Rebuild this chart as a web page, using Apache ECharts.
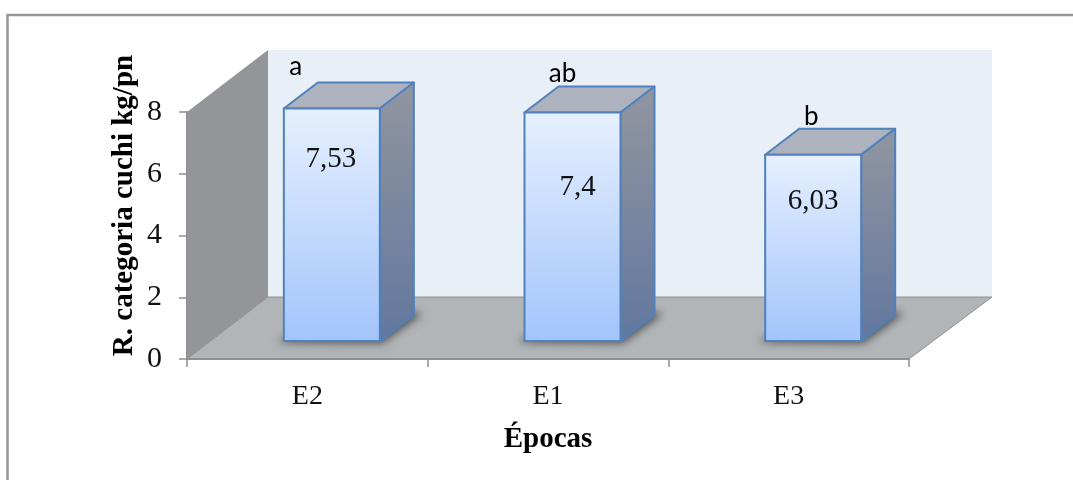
<!DOCTYPE html>
<html>
<head>
<meta charset="utf-8">
<style>html,body{margin:0;padding:0;background:#fff}#chart{width:1073px;height:480px}</style>
<script src="https://cdn.jsdelivr.net/npm/echarts@6/dist/echarts.min.js"></script>
</head>
<body>
<div id="chart"></div>
<script>
// Yield of the "cuchi" category by season
const categories = ['E2', 'E1', 'E3'];
const values = [7.53, 7.4, 6.03];
const valueLabels = ['7,53', '7,4', '6,03'];
const groupLetters = ['a', 'ab', 'b'];

// Pseudo-3D box settings, in pixels
const WALL_DX = 81, WALL_DX_RIGHT = 83, WALL_DY = -62;   // depth of the whole chart box
const SLOT_DX = 24.5, SLOT_DY = -18;    // where the front of each bar sits
const BAR_DX = 34, BAR_DY = -26;        // depth of each bar
const BAR_WIDTH = 96;
const VALUE_POS = [[-1, 51], [5, 75], [0, 47]];         // value text from the bar top centre
const LETTER_POS = [[-36, -42], [-10, -39], [-2, -38]]; // letter text from the bar top centre
const OFFSCREEN = 3000;                 // the floor shadow's source shape sits off the canvas

const SERIF = '"Liberation Serif","Times New Roman",serif';

function wallItem(params, api) {
  const g = params.coordSys;
  const l = g.x, r = g.x + g.width, t = g.y, b = g.y + g.height;
  return {
    type: 'group',
    silent: true,
    children: [
      { type: 'polygon', shape: { points: [[l + WALL_DX, t + WALL_DY], [r + WALL_DX_RIGHT, t + WALL_DY], [r + WALL_DX_RIGHT, b + WALL_DY], [l + WALL_DX, b + WALL_DY]] },
        style: { fill: '#e8eff6' } },
      { type: 'polygon', shape: { points: [[l, t], [l + WALL_DX, t + WALL_DY], [l + WALL_DX, b + WALL_DY], [l, b]] },
        style: { fill: '#939598' } },
      { type: 'polygon', shape: { points: [[l, b], [l + WALL_DX, b + WALL_DY], [r + WALL_DX_RIGHT, b + WALL_DY], [r, b]] },
        style: { fill: '#b1b5b7', stroke: '#8f9294', lineWidth: 1 } }
    ]
  };
}

function barItem(params, api) {
  const i = api.value(0);
  const top = api.coord([i, api.value(1)]);
  const base = api.coord([i, 0]);
  const cx = top[0] + SLOT_DX;
  const x0 = cx - BAR_WIDTH / 2, x1 = cx + BAR_WIDTH / 2;
  const yT = top[1] + SLOT_DY, yB = base[1] + SLOT_DY;
  const line = { stroke: '#4f81bd', lineWidth: 2, lineJoin: 'round' };
  const vGrad = (a, b) => ({ type: 'linear', x: 0, y: 0, x2: 0, y2: 1, colorStops: [{ offset: 0, color: a }, { offset: 1, color: b }] });
  const shadowShape = [[x0 - 6, yB + 1], [x1 + 2, yB + 2], [x1 + BAR_DX + 8, yB + BAR_DY - 1], [x1 + BAR_DX, yB + BAR_DY - 3], [x0, yB - 3]]
    .map(p => [p[0] - OFFSCREEN, p[1]]);
  return {
    type: 'group',
    children: [
      // soft shadow on the floor: only the blurred shadow lands on the canvas
      { type: 'polygon', shape: { points: shadowShape },
        style: { fill: '#000', shadowBlur: 8, shadowOffsetX: OFFSCREEN, shadowColor: 'rgba(50,50,50,0.8)' } },
      // top face
      { type: 'polygon', shape: { points: [[x0, yT], [x0 + BAR_DX, yT + BAR_DY], [x1 + BAR_DX, yT + BAR_DY], [x1, yT]] },
        style: Object.assign({ fill: '#adb2be' }, line) },
      // right face
      { type: 'polygon', shape: { points: [[x1, yT], [x1 + BAR_DX, yT + BAR_DY], [x1 + BAR_DX, yB + BAR_DY], [x1, yB]] },
        style: Object.assign({ fill: vGrad('#9196a0', '#62779f') }, line) },
      // front face
      { type: 'rect', shape: { x: x0, y: yT, width: BAR_WIDTH, height: yB - yT },
        style: Object.assign({ fill: vGrad('#e6f0ff', '#a3c4fb') }, line) },
      { type: 'text', x: cx + VALUE_POS[i][0], y: yT + VALUE_POS[i][1],
        style: { text: valueLabels[i], fill: '#111', font: '29px ' + SERIF, align: 'center', verticalAlign: 'middle' } },
      { type: 'text', x: cx + LETTER_POS[i][0], y: yT + LETTER_POS[i][1],
        style: { text: groupLetters[i], fill: '#000', font: '26px Lato,sans-serif', align: 'center', verticalAlign: 'middle' } }
    ]
  };
}

const chart = echarts.init(document.getElementById('chart'));
chart.setOption({
  animation: false,
  backgroundColor: '#fff',
  graphic: [{
    type: 'rect', z: 0, silent: true,
    shape: { x: 7.5, y: 15, width: 1080, height: 480 },
    style: { fill: 'none', stroke: '#979797', lineWidth: 2.5 }
  }],
  grid: { left: 187, right: 164, top: 112, bottom: 121 },
  xAxis: {
    type: 'category',
    data: categories,
    name: 'Épocas',
    nameLocation: 'middle',
    nameGap: 66,
    nameMoveOverlap: false,
    nameTextStyle: { fontFamily: SERIF, fontWeight: 'bold', fontSize: 29, color: '#000' },
    axisLine: { lineStyle: { color: '#8e8e8e', width: 2 } },
    axisTick: { show: true, alignWithLabel: false, length: 8, lineStyle: { color: '#8e8e8e', width: 1.5 } },
    axisLabel: { fontFamily: SERIF, fontSize: 28, color: '#111', margin: 24 },
    splitLine: { show: false },
    z: 5
  },
  yAxis: {
    type: 'value',
    min: 0, max: 8, interval: 2,
    name: 'R. categoria cuchi kg/pn',
    nameLocation: 'middle',
    nameGap: 48,
    nameMoveOverlap: false,
    nameTextStyle: { fontFamily: SERIF, fontWeight: 'bold', fontSize: 29, color: '#000', padding: [0, 0, 0, 60] },
    axisLine: { show: true, lineStyle: { color: '#8e8e8e', width: 2 } },
    axisTick: { show: true, length: 8, lineStyle: { color: '#8e8e8e', width: 1.5 } },
    axisLabel: { fontFamily: SERIF, fontSize: 30, color: '#111', margin: 25, padding: [4, 0, 0, 0] },
    splitLine: { show: false }
  },
  series: [
    { type: 'custom', renderItem: wallItem, data: [[0, 0]], clip: false, z: 1, silent: true },
    { type: 'custom', renderItem: barItem, data: values.map((v, i) => [i, v]), encode: { x: 0, y: 1 }, clip: false, z: 2 }
  ]
});
</script>
</body>
</html>
